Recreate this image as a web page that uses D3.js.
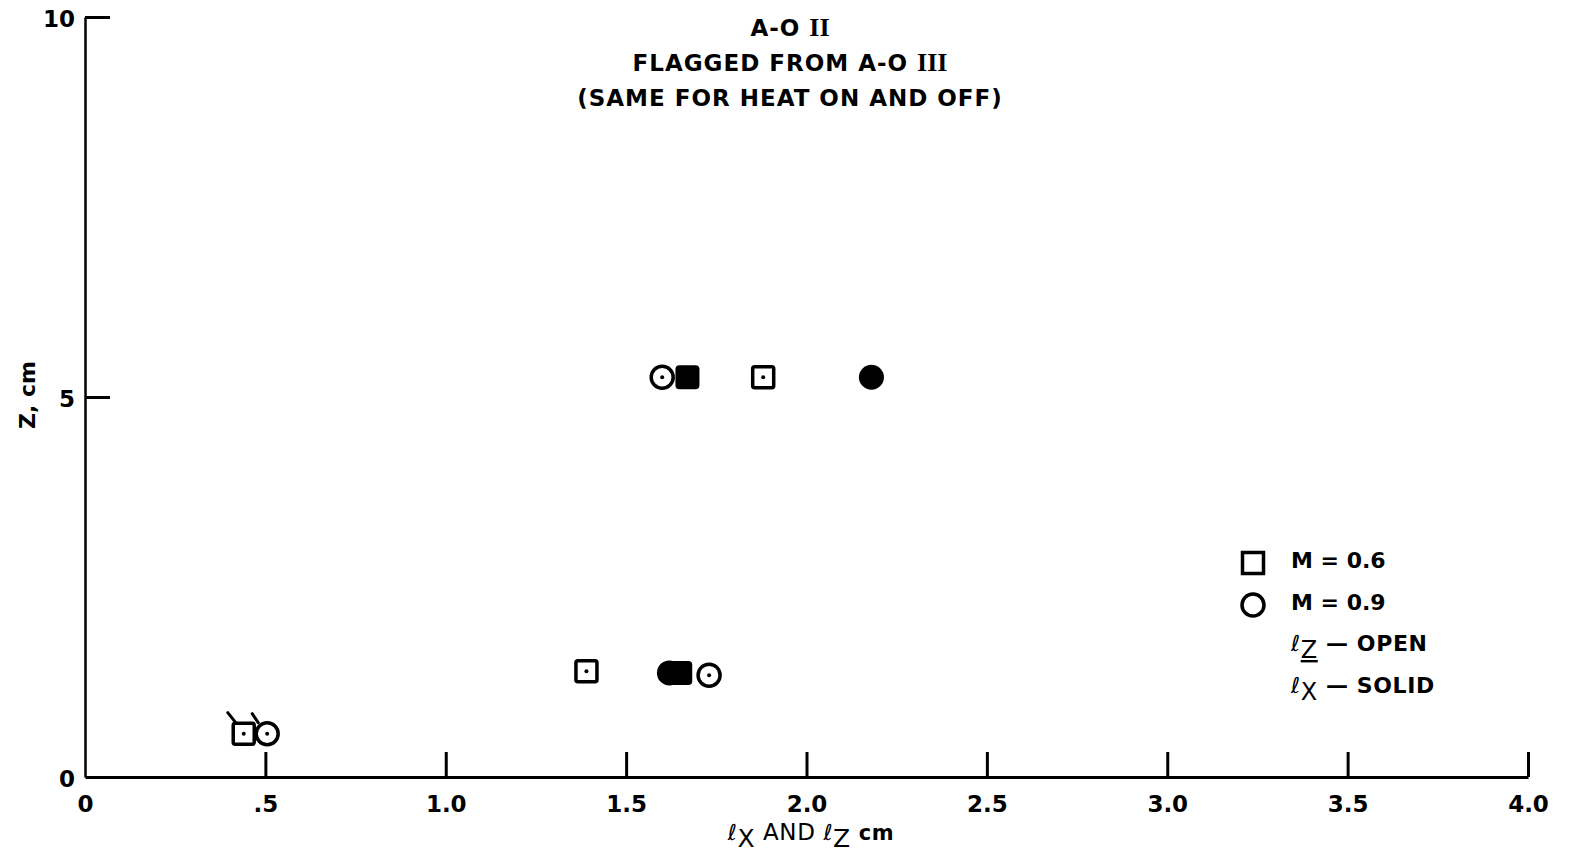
<!DOCTYPE html>
<html>
<head>
<meta charset="utf-8">
<script src="https://cdn.jsdelivr.net/npm/d3@7"></script>
<style>
  html, body { margin: 0; padding: 0; background: #fff; }
  svg { display: block; }
  text { font-family: "DejaVu Sans", sans-serif; fill: #000; }
</style>
</head>
<body>
<svg id="chart" width="1572" height="859"></svg>
<script>
// ---- data ----
const titleLines = ["A-O II", "FLAGGED FROM A-O III", "(SAME FOR HEAT ON AND OFF)"];
const xTickValues = [0, 0.5, 1.0, 1.5, 2.0, 2.5, 3.0, 3.5, 4.0];
const xTickLabels = ["0", ".5", "1.0", "1.5", "2.0", "2.5", "3.0", "3.5", "4.0"];
const yTickValues = [0, 5, 10];
const yTickLabels = ["0", "5", "10"];

// M = 0.6 (squares)
const sqOpenX  = [1.88, 1.39, 0.44];   // lZ - open
const sqOpenZ  = [5.26, 1.39, 0.57];
const sqOpenFlag = [false, false, true];
const sqSolidX = [1.67, 1.65];         // lX - solid
const sqSolidZ = [5.26, 1.37];
// M = 0.9 (circles)
const ciOpenX  = [1.60, 1.73, 0.505];  // lZ - open
const ciOpenZ  = [5.26, 1.34, 0.57];
const ciOpenFlag = [false, false, true];
const ciSolidX = [2.18, 1.62];         // lX - solid
const ciSolidZ = [5.26, 1.37];

const legendLabels = ["M = 0.6", "M = 0.9"];

// ---- chart ----
const svg = d3.select("#chart");
const x = d3.scaleLinear().domain([0, 4]).range([85, 1528]);
const y = d3.scaleLinear().domain([0, 10]).range([777, 17]);

const BOLD = "'DejaVu Sans', sans-serif";

// title
const title = svg.append("g").attr("font-weight", "bold").attr("font-size", 23)
  .attr("letter-spacing", 1).attr("text-anchor", "middle");
const titleY = [36, 71, 106];
titleLines.forEach((line, i) => {
  const t = title.append("text").attr("x", 790).attr("y", titleY[i]);
  const m = line.match(/^(.*?)(I+)$/);
  if (m) {
    t.append("tspan").text(m[1]);
    t.append("tspan").attr("font-family", "'Liberation Serif', serif").attr("font-size", 26)
      .attr("letter-spacing", 0).text(m[2]);
  } else {
    t.text(line);
  }
});

// x axis
const xAxis = d3.axisBottom(x)
  .tickValues(xTickValues)
  .tickFormat((d, i) => xTickLabels[i])
  .tickSizeInner(-25).tickSizeOuter(0).tickPadding(19);
const gx = svg.append("g").attr("transform", "translate(0,777)").call(xAxis);
gx.select(".domain").attr("stroke", "#000").attr("stroke-width", 3);
gx.selectAll(".tick line").attr("stroke", "#000").attr("stroke-width", 3);
gx.selectAll(".tick").filter(d => d === 0).select("line").remove();
gx.selectAll(".tick text").attr("font-family", BOLD)
  .attr("font-size", 23).attr("font-weight", "bold").attr("fill", "#000");

// y axis
const yAxis = d3.axisLeft(y)
  .tickValues(yTickValues)
  .tickFormat((d, i) => yTickLabels[i])
  .tickSizeInner(-25).tickSizeOuter(0).tickPadding(10);
const gy = svg.append("g").attr("transform", "translate(85,0)").call(yAxis);
gy.select(".domain").attr("stroke", "#000").attr("stroke-width", 2.5);
gy.selectAll(".tick line").attr("stroke", "#000").attr("stroke-width", 3);
gy.selectAll(".tick").filter(d => d === 0).select("line").remove();
gy.selectAll(".tick text").attr("font-family", BOLD).attr("dy", "0.4em")
  .attr("font-size", 23).attr("font-weight", "bold").attr("fill", "#000");

// y title
svg.append("text")
  .attr("transform", "translate(35,395) rotate(-90)")
  .attr("text-anchor", "middle").attr("font-weight", "bold").attr("font-size", 22)
  .text("Z, cm");

// x title
const xt = svg.append("text").attr("x", 811).attr("y", 840).attr("text-anchor", "middle")
  .attr("font-size", 23).attr("letter-spacing", 0.6);
xt.append("tspan").attr("font-size", 22).text("ℓ");
xt.append("tspan").attr("dy", 7).attr("font-size", 25).text("X");
xt.append("tspan").attr("dy", -7).text(" AND ");
xt.append("tspan").attr("font-size", 22).text("ℓ");
xt.append("tspan").attr("dy", 7).attr("font-size", 25).text("Z");
xt.append("tspan").attr("dy", -7).attr("font-weight", "bold").attr("font-size", 21).text(" cm");

// ---- marks ----
const SQ = 21, R = 11, SW = 3.5;
const marks = svg.append("g");

function openSquares(xs, zs, flags) {
  const d = xs.map((v, i) => ({ x: v, z: zs[i], f: flags[i] }));
  const g = marks.selectAll(null).data(d).enter().append("g")
    .attr("transform", p => `translate(${x(p.x)},${y(p.z)})`);
  g.append("rect").attr("x", -SQ / 2).attr("y", -SQ / 2).attr("width", SQ).attr("height", SQ)
    .attr("rx", 2).attr("fill", "#fff").attr("stroke", "#000").attr("stroke-width", SW);
  g.append("circle").attr("r", 2).attr("fill", "#000");
  g.filter(p => p.f).append("line")
    .attr("x1", -8).attr("y1", -11).attr("x2", -16).attr("y2", -21)
    .attr("stroke", "#000").attr("stroke-width", 3).attr("stroke-linecap", "round");
}
function openCircles(xs, zs, flags) {
  const d = xs.map((v, i) => ({ x: v, z: zs[i], f: flags[i] }));
  const g = marks.selectAll(null).data(d).enter().append("g")
    .attr("transform", p => `translate(${x(p.x)},${y(p.z)})`);
  g.append("circle").attr("r", R).attr("fill", "#fff").attr("stroke", "#000").attr("stroke-width", SW);
  g.append("circle").attr("r", 2).attr("fill", "#000");
  g.filter(p => p.f).append("line")
    .attr("x1", -9).attr("y1", -11).attr("x2", -15).attr("y2", -20)
    .attr("stroke", "#000").attr("stroke-width", 3).attr("stroke-linecap", "round");
}
function solidSquares(xs, zs) {
  const d = xs.map((v, i) => ({ x: v, z: zs[i] }));
  marks.selectAll(null).data(d).enter().append("rect")
    .attr("x", p => x(p.x) - 12).attr("y", p => y(p.z) - 12)
    .attr("width", 24).attr("height", 24).attr("rx", 4).attr("fill", "#000");
}
function solidCircles(xs, zs) {
  const d = xs.map((v, i) => ({ x: v, z: zs[i] }));
  marks.selectAll(null).data(d).enter().append("circle")
    .attr("cx", p => x(p.x)).attr("cy", p => y(p.z)).attr("r", 12.5).attr("fill", "#000");
}

solidCircles(ciSolidX, ciSolidZ);
solidSquares(sqSolidX, sqSolidZ);
openSquares(sqOpenX, sqOpenZ, sqOpenFlag);
openCircles(ciOpenX, ciOpenZ, ciOpenFlag);

// ---- legend ----
const lg = svg.append("g");
lg.append("rect").attr("x", 1253 - SQ / 2).attr("y", 563 - SQ / 2).attr("width", SQ).attr("height", SQ)
  .attr("fill", "none").attr("stroke", "#000").attr("stroke-width", SW);
lg.append("circle").attr("cx", 1253).attr("cy", 605).attr("r", R)
  .attr("fill", "none").attr("stroke", "#000").attr("stroke-width", SW);
legendLabels.forEach((t, i) => {
  lg.append("text").attr("x", 1291).attr("y", 568 + i * 42)
    .attr("font-weight", "bold").attr("font-size", 22).text(t);
});
const l3 = lg.append("text").attr("x", 1291).attr("y", 651).attr("font-size", 22).attr("letter-spacing", 0.6);
l3.append("tspan").attr("font-size", 22).text("ℓ");
l3.append("tspan").attr("dy", 7).attr("font-size", 24).attr("text-decoration", "underline").text("Z");
l3.append("tspan").attr("dy", -7).attr("font-weight", "bold").text(" — OPEN");
const l4 = lg.append("text").attr("x", 1291).attr("y", 693).attr("font-size", 22).attr("letter-spacing", 0.6);
l4.append("tspan").attr("font-size", 22).text("ℓ");
l4.append("tspan").attr("dy", 7).attr("font-size", 24).text("X");
l4.append("tspan").attr("dy", -7).attr("font-weight", "bold").text(" — SOLID");
</script>
</body>
</html>
